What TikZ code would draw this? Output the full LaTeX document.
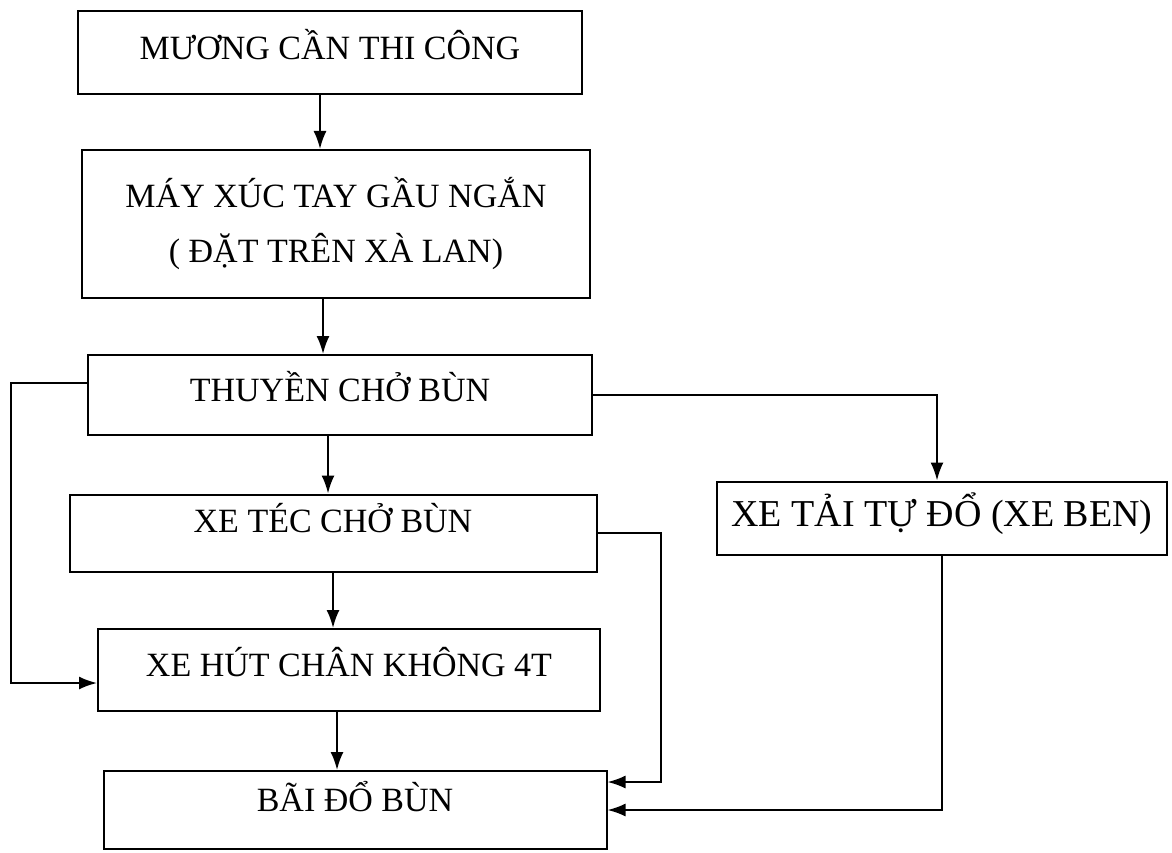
\documentclass[tikz,border=0pt]{standalone}
\usepackage{fontspec}
\setmainfont{Liberation Serif}
\usetikzlibrary{arrows.meta}

\begin{document}
\begin{tikzpicture}[x=1pt,y=-1pt,
  box/.style={draw,line width=2pt,inner sep=0pt,align=center,text depth=17pt,
    font=\fontsize{34}{55}\selectfont},
  arr/.style={line width=2pt,-{Latex[length=18pt,width=13pt]}}]
\useasboundingbox (0,0) rectangle (1172,853);
\node[box,minimum width=504pt,minimum height=83pt] (muong) at (330,53) {MƯƠNG CẦN THI CÔNG};
\node[box,minimum width=508pt,minimum height=148pt,text depth=8pt] (mayxuc) at (336,224) {MÁY XÚC TAY GẦU NGẮN\\( ĐẶT TRÊN XÀ LAN)};
\node[box,minimum width=504pt,minimum height=80pt] (thuyen) at (340,395) {THUYỀN CHỞ BÙN};
\node[box,minimum width=527pt,minimum height=77pt,text depth=31pt] (xetec) at (333,533) {XE TÉC CHỞ BÙN};
\node[box,minimum width=450pt,minimum height=73pt,font=\fontsize{38}{44}\selectfont] (xetai) at (942,518) {XE TẢI TỰ ĐỔ (XE BEN)};
\node[box,minimum width=502pt,minimum height=82pt] (xehut) at (349,670) {XE HÚT CHÂN KHÔNG 4T};
\node[box,minimum width=503pt,minimum height=78pt,text depth=27pt] (baido) at (355,810) {BÃI ĐỔ BÙN};
% main line
\draw[arr] ([xshift=-10pt]muong.south) -- ([xshift=-10pt]muong.south |- mayxuc.north);
\draw[arr] ([xshift=-13pt]mayxuc.south) -- ([xshift=-13pt]mayxuc.south |- thuyen.north);
\draw[arr] ([xshift=-12pt]thuyen.south) -- ([xshift=-12pt]thuyen.south |- xetec.north);
\draw[arr] (xetec.south) -- (xetec.south |- xehut.north);
\draw[arr] ([xshift=-12pt]xehut.south) -- ([xshift=-12pt]xehut.south |- baido.north);
% side lines
\draw[arr] ([yshift=12pt]thuyen.west) -- ++(-76,0) |- ([yshift=-13pt]xehut.west);
\draw[arr] (thuyen.east) -| ([xshift=-5pt]xetai.north);
\draw[arr] (xetec.east) -- ++(63,0) |- ([yshift=28pt]baido.east);
\draw[arr] (xetai.south) |- (baido.east);
\end{tikzpicture}
\end{document}
